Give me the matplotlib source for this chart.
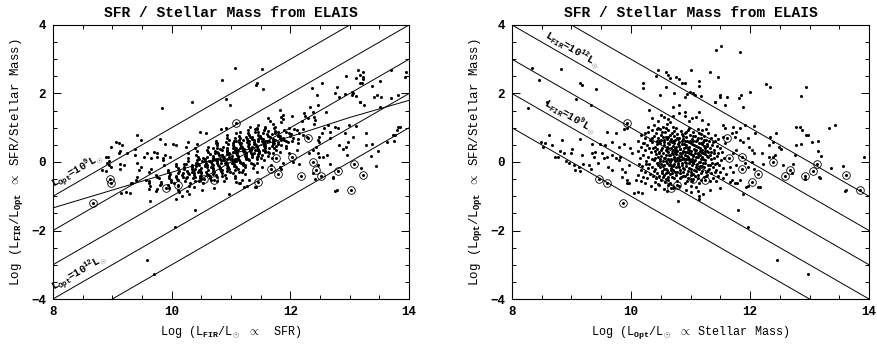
import numpy as np
import matplotlib
matplotlib.use("Agg")
import matplotlib.pyplot as plt
from matplotlib.ticker import MultipleLocator

# galaxy sample: (log L_opt, log L_FIR/L_opt)
# left panel uses log L_FIR = log L_opt + ratio
top_pts = [(8.34, 2.73), (8.46, 2.39), (8.82, 2.71), (9.14, 2.30), (9.17, 2.25), (9.42, 2.12),
           (9.08, 1.84), (8.58, 1.76), (10.21, 2.32), (10.21, 2.15), (10.42, 2.52), (10.46, 2.68),
           (10.49, 1.96), (10.59, 2.64), (10.63, 2.54), (10.66, 2.44), (10.59, 2.19), (10.75, 2.47),
           (10.81, 2.42), (10.86, 2.32), (10.91, 2.30), (10.73, 2.02), (10.91, 1.91), (10.94, 1.98),
           (10.99, 2.05), (11.05, 2.00), (11.08, 1.96), (11.17, 1.94), (11.00, 2.69), (11.14, 2.37),
           (11.15, 2.23), (11.33, 2.62), (11.47, 2.47), (11.43, 3.28), (11.52, 3.38), (11.83, 3.22),
           (11.42, 1.76), (11.50, 1.96), (11.50, 1.91), (11.61, 1.91), (11.81, 1.88), (11.85, 1.96),
           (12.00, 2.03), (12.27, 2.28), (12.33, 2.18), (12.86, 1.94), (12.94, 2.18)]

low_mass_pts = [(8.27, 1.57), (9.33, 1.66), (9.88, 0.95), (9.93, 0.98), (9.74, 0.84), (9.59, 0.89),
                (9.68, 0.59), (8.62, 0.79), (8.48, 0.59), (8.56, 0.56), (8.52, 0.45), (8.67, 0.50),
                (8.84, 0.64), (9.15, 0.66), (9.34, 0.54), (9.48, 0.54), (9.57, 0.50), (9.01, 0.37),
                (9.00, 0.25), (8.81, 0.32), (8.87, 0.25), (8.73, 0.16), (8.78, 0.14), (8.90, 0.04),
                (8.95, -0.04), (9.04, -0.09), (9.12, -0.14), (9.20, -0.07), (9.29, -0.09), (9.34, 0.25),
                (9.40, 0.30), (9.37, 0.16), (9.18, 0.20), (9.51, 0.25), (9.54, 0.11), (9.60, 0.16),
                (9.45, -0.04), (9.32, -0.19), (9.68, 0.20), (9.74, 0.11), (9.79, 0.06), (9.82, 0.16),
                (9.62, -0.14), (9.68, -0.23), (9.85, -0.19), (9.90, -0.28), (9.96, -0.09), (9.85, -0.43),
                (9.93, -0.53), (9.96, -0.62), (9.79, 0.45), (9.88, 0.54), (9.99, 0.40), (10.02, 0.25),
                (9.06, -0.23), (9.15, -0.25)]

below_pts = [(9.93, -0.61), (10.08, -0.52), (10.05, -0.90), (10.12, -0.89), (10.19, -0.90),
             (10.47, -0.67), (10.60, -0.86), (10.55, -0.80), (11.00, -0.88), (11.12, -0.86),
             (11.15, -0.98), (11.43, -0.55), (11.70, -0.52), (11.78, -0.62), (11.97, -0.70),
             (12.13, -0.72), (13.16, -0.44), (13.60, -0.84), (10.79, -1.15), (11.15, -1.08),
             (11.79, -1.39), (11.97, -1.91), (12.45, -2.87), (12.97, -3.27)]

high_mass_pts = [(12.06, 1.05), (12.08, 0.84), (12.44, 0.84), (12.34, 0.72), (12.38, 0.59),
                 (12.32, 0.50), (12.49, 0.45), (12.52, 0.37), (12.42, 0.20), (12.39, 0.16),
                 (12.20, 0.27), (12.07, 0.25), (12.32, 0.16), (12.22, -0.07), (12.06, -0.21),
                 (12.56, -0.09), (12.72, -0.06), (12.70, -0.31), (12.16, -0.74), (12.92, -0.50),
                 (13.18, -0.46), (13.36, -0.17), (13.56, -0.12), (13.61, -0.82), (13.92, 0.14),
                 (12.76, 0.20), (12.78, 1.03), (12.84, 1.01), (12.87, 0.93), (12.94, 0.79),
                 (12.98, 0.79), (12.78, 0.50), (12.85, 0.53), (13.04, 0.59), (13.14, 0.61),
                 (13.15, 0.32), (13.19, 0.17), (13.32, 1.00), (13.42, 1.08),
                 (11.41, 1.76), (11.58, 1.66), (11.89, 1.62), (11.55, 1.08), (11.58, 0.98),
                 (11.72, 1.03), (11.77, 0.89), (11.83, 0.98), (11.91, 1.08), (11.69, 0.84),
                 (11.75, 0.74), (11.83, 0.64), (11.89, 0.59), (11.97, 0.69), (11.99, 0.45),
                 (12.03, 0.35), (11.77, 0.35), (11.72, 0.25), (11.91, -0.04), (11.97, -0.14),
                 (12.03, 0.01), (11.66, -0.14), (11.72, -0.28), (11.77, -0.09), (11.55, -0.48),
                 (11.66, -0.57), (11.75, -0.62), (11.83, -0.53), (11.49, -0.77), (11.33, -0.82),
                 (11.21, -0.92), (11.94, -0.72), (11.89, -0.92)]

upper_core_pts = [(10.71, 1.62), (10.81, 1.66), (10.81, 1.42), (10.91, 1.47), (11.02, 1.27),
                  (10.98, 1.21), (10.24, 0.84), (10.29, 1.03), (10.38, 1.08), (10.46, 0.98),
                  (10.54, 1.03), (10.60, 1.11), (10.66, 1.18), (10.71, 1.03), (10.55, 1.30),
                  (10.62, 1.25), (10.50, 1.38), (10.70, 1.33), (10.45, 1.20), (10.35, 1.28),
                  (11.10, 1.30), (11.20, 1.22), (11.30, 1.10), (11.15, 1.45), (10.30, 1.52),
                  (10.90, 1.35)]

core_a = [(10.12, 0.62), (10.11, 0.31), (10.13, -0.05), (10.12, -0.38),
          (10.16, 0.78), (10.17, 0.45), (10.15, 0.12), (10.16, -0.22), (10.17, -0.55),
          (10.20, 0.55), (10.21, 0.20), (10.19, -0.12), (10.20, -0.44),
          (10.24, 0.70), (10.23, 0.36), (10.25, 0.02), (10.24, -0.30), (10.23, -0.62),
          (10.28, 0.88), (10.27, 0.49), (10.29, 0.15), (10.28, -0.18), (10.27, -0.48),
          (10.32, 0.64), (10.33, 0.28), (10.31, -0.06), (10.32, -0.35), (10.33, -0.70),
          (10.36, 0.92), (10.35, 0.57), (10.37, 0.40), (10.36, 0.10), (10.35, -0.15), (10.37, -0.42),
          (10.39, 0.75), (10.40, 0.33), (10.38, 0.05), (10.39, -0.27), (10.40, -0.58),
          (10.42, 0.86), (10.43, 0.62), (10.41, 0.45), (10.42, 0.22), (10.43, -0.02), (10.41, -0.20),
          (10.42, -0.46), (10.45, 0.70), (10.44, 0.38), (10.46, 0.14), (10.45, -0.10), (10.44, -0.33),
          (10.46, -0.64), (10.48, 0.95), (10.49, 0.55), (10.47, 0.30), (10.48, 0.08), (10.49, -0.15),
          (10.47, -0.40), (10.51, 0.80), (10.50, 0.63), (10.52, 0.42), (10.51, 0.18), (10.50, -0.05),
          (10.52, -0.26), (10.51, -0.52), (10.54, 0.72), (10.55, 0.49), (10.53, 0.25), (10.54, 0.02),
          (10.55, -0.20), (10.53, -0.45), (10.57, 0.88), (10.56, 0.58), (10.58, 0.36), (10.57, 0.12),
          (10.56, -0.10), (10.58, -0.31), (10.57, -0.58), (10.60, 0.67), (10.61, 0.44), (10.59, 0.21),
          (10.60, -0.02), (10.61, -0.24), (10.59, -0.50)]

core_b = [(10.63, 0.93), (10.62, 0.74), (10.64, 0.52), (10.63, 0.30), (10.62, 0.10), (10.64, -0.08),
          (10.63, -0.28), (10.62, -0.43), (10.66, 0.62), (10.67, 0.41), (10.65, 0.19), (10.66, 0.00),
          (10.67, -0.18), (10.65, -0.36), (10.66, -0.62), (10.69, 0.85), (10.68, 0.68), (10.70, 0.47),
          (10.69, 0.27), (10.68, 0.06), (10.70, -0.13), (10.69, -0.32), (10.72, 0.77), (10.73, 0.56),
          (10.71, 0.35), (10.72, 0.15), (10.73, -0.05), (10.71, -0.24), (10.72, -0.47), (10.75, 0.98),
          (10.74, 0.64), (10.76, 0.43), (10.75, 0.22), (10.74, 0.03), (10.76, -0.16), (10.75, -0.38),
          (10.78, 0.82), (10.79, 0.52), (10.77, 0.31), (10.78, 0.11), (10.79, -0.09), (10.77, -0.28),
          (10.78, -0.55), (10.81, 0.70), (10.80, 0.48), (10.82, 0.26), (10.81, 0.05), (10.80, -0.14),
          (10.82, -0.33), (10.84, 0.90), (10.85, 0.60), (10.83, 0.38), (10.84, 0.18), (10.85, -0.02),
          (10.83, -0.22), (10.84, -0.45), (10.87, 0.75), (10.86, 0.53), (10.88, 0.32), (10.87, 0.12),
          (10.86, -0.08), (10.88, -0.30), (10.90, 0.84), (10.91, 0.62), (10.89, 0.41), (10.90, 0.20),
          (10.91, 0.00), (10.89, -0.19), (10.90, -0.40), (10.91, -0.60)]

core_c = [(10.93, 0.72), (10.92, 0.50), (10.94, 0.29), (10.93, 0.08), (10.92, -0.12), (10.94, -0.34),
          (10.96, 0.93), (10.97, 0.58), (10.95, 0.37), (10.96, 0.16), (10.97, -0.04), (10.95, -0.25),
          (10.96, -0.48), (10.99, 0.80), (10.98, 0.45), (11.00, 0.24), (10.99, 0.04), (10.98, -0.17),
          (11.00, -0.38), (11.02, 0.68), (11.03, 0.52), (11.01, 0.31), (11.02, 0.10), (11.03, -0.10),
          (11.01, -0.30), (11.02, -0.56), (11.05, 0.88), (11.04, 0.60), (11.06, 0.39), (11.05, 0.18),
          (11.04, -0.03), (11.06, -0.22), (11.08, 0.75), (11.09, 0.46), (11.07, 0.26), (11.08, 0.06),
          (11.09, -0.14), (11.07, -0.42), (11.11, 0.63), (11.10, 0.34), (11.12, 0.14), (11.11, -0.06),
          (11.10, -0.27), (11.14, 0.84), (11.15, 0.55), (11.13, 0.22), (11.14, 0.01), (11.15, -0.19),
          (11.13, -0.38), (11.14, -0.62), (11.17, 0.70), (11.16, 0.42), (11.18, 0.29), (11.17, 0.09),
          (11.16, -0.11), (11.18, -0.33), (11.20, 0.92), (11.21, 0.58), (11.19, 0.35), (11.20, 0.16),
          (11.21, -0.04), (11.19, -0.25)]

core_d = [(11.23, 0.76), (11.22, 0.47), (11.24, 0.22), (11.23, -0.15), (11.22, -0.45),
          (11.26, 0.64), (11.27, 0.31), (11.25, 0.05), (11.26, -0.28),
          (11.29, 0.85), (11.28, 0.52), (11.30, 0.14), (11.29, -0.08), (11.28, -0.38),
          (11.32, 0.40), (11.33, 0.20), (11.31, -0.20), (11.32, -0.55),
          (11.35, 0.70), (11.34, 0.28), (11.36, -0.02), (11.35, -0.32),
          (11.38, 0.58), (11.39, 0.11), (11.37, -0.14), (11.38, -0.46),
          (11.41, 0.80), (11.40, 0.35), (11.42, -0.05), (11.41, -0.28),
          (11.44, 0.48), (11.45, 0.18), (11.43, -0.22),
          (11.47, 0.66), (11.46, 0.25), (11.48, -0.10), (11.47, -0.40),
          (11.50, 0.42), (11.51, 0.05), (11.49, -0.30),
          (11.54, 0.74), (11.53, 0.30), (11.55, -0.18),
          (11.58, 0.55), (11.57, 0.12), (11.59, -0.36)]

core_fill = [(10.435, 0.52), (10.465, 0.27), (10.495, 0.02), (10.525, -0.33), (10.555, 0.65),
             (10.585, 0.04), (10.615, 0.56), (10.645, 0.20), (10.675, -0.08), (10.705, 0.60),
             (10.735, 0.41), (10.765, 0.06), (10.795, 0.66), (10.825, 0.39), (10.855, 0.08),
             (10.885, 0.52), (10.915, 0.30), (10.945, 0.62), (10.975, 0.27), (11.005, 0.55),
             (11.035, 0.21), (11.065, 0.50), (11.095, 0.15), (11.125, 0.45), (11.155, 0.32),
             (11.185, 0.52), (11.215, 0.26), (11.245, 0.40), (11.275, 0.18), (10.73, 0.90),
             (10.86, 0.83), (10.98, 1.00), (11.12, 0.95), (10.58, 1.00), (10.44, 0.97),
             (11.26, 0.96), (10.62, -0.68), (10.80, -0.70), (11.00, -0.70), (10.93, -0.82),
             (11.10, -0.72), (10.40, -0.78), (10.70, -0.75)]

core_fill2 = [(10.52, 0.88), (10.58, 0.74), (10.47, 0.61), (10.63, 0.41), (10.69, 0.58),
              (10.74, 0.29), (10.81, 0.57), (10.77, 0.71), (10.88, 0.66), (10.93, 0.43),
              (10.99, 0.62), (11.04, 0.76), (11.09, 0.62), (11.13, 0.70), (11.17, 0.55),
              (11.22, 0.63), (11.27, 0.48), (11.31, 0.62), (11.36, 0.49), (11.42, 0.61),
              (10.50, 0.35), (10.56, 0.13), (10.61, 0.33), (10.67, 0.10), (10.71, 0.23),
              (10.76, 0.35), (10.80, 0.16), (10.85, 0.25), (10.89, 0.10), (10.94, 0.18),
              (10.98, 0.35), (11.03, 0.04), (11.07, 0.34), (11.12, 0.27), (11.16, 0.20),
              (11.21, 0.08), (11.25, 0.33), (11.30, 0.28), (11.34, 0.09), (11.39, 0.25),
              (10.46, -0.04), (10.53, -0.12), (10.58, -0.19), (10.64, 0.05), (10.68, -0.22),
              (10.73, 0.09), (10.79, -0.03), (10.83, 0.05), (10.87, -0.18), (10.92, -0.02),
              (10.97, 0.10), (11.01, -0.20), (11.06, 0.02), (11.11, -0.17), (11.16, 0.00),
              (11.19, -0.13), (11.24, -0.03), (11.29, -0.22), (11.33, -0.09), (11.45, -0.02),
              (10.55, -0.38), (10.62, -0.52), (10.69, -0.43), (10.74, -0.30), (10.82, -0.46),
              (10.88, -0.41), (10.94, -0.55), (11.00, -0.50), (11.05, -0.36), (11.12, -0.48),
              (11.18, -0.52), (11.26, -0.42), (10.66, 0.80), (10.92, 0.87), (11.18, 0.83),
              (10.40, 0.12), (10.36, 0.70), (10.30, 0.40), (10.26, -0.06), (10.22, 0.55)]

# flagged (circled) galaxies
circled_pts = [(9.93, 1.15), (9.87, -1.20), (9.47, -0.51), (9.60, -0.62), (10.68, -0.77),
               (10.77, -0.66), (11.05, -0.50), (11.24, -0.52), (11.61, 0.69), (11.65, 0.11),
               (11.86, 0.16), (11.87, -0.20), (12.03, -0.57), (12.39, -0.01), (12.67, -0.23),
               (12.59, -0.41), (12.14, -0.35), (12.92, -0.41), (13.06, -0.25), (13.13, -0.06),
               (13.61, -0.38), (13.85, -0.82)]

# constant luminosity lines (log L = intercept)
line_intercepts = [9, 10, 11, 12, 13]

# fitted trend in the left panel
fit_x = [8, 9, 10, 11, 12, 13, 14]
fit_y = [-1.34, -0.82, -0.30, 0.22, 0.74, 1.30, 1.80]

all_pts = np.array(top_pts + low_mass_pts + below_pts + high_mass_pts + upper_core_pts
                   + core_a + core_b + core_c + core_d + core_fill + core_fill2 + circled_pts)
lopt = all_pts[:, 0]
ratio = all_pts[:, 1]
circ = np.array(circled_pts)

plt.rcParams["font.family"] = "Liberation Mono"
plt.rcParams["font.weight"] = "bold"
plt.rcParams["mathtext.fontset"] = "custom"
plt.rcParams["mathtext.rm"] = "Liberation Mono:bold"
plt.rcParams["mathtext.it"] = "Liberation Mono:bold"
plt.rcParams["mathtext.bf"] = "Liberation Mono:bold"
plt.rcParams["axes.linewidth"] = 0.8

fig = plt.figure(figsize=(8.77, 3.5), dpi=100)
ax1 = fig.add_axes([0.0604, 0.1457, 0.406, 0.7829])
ax2 = fig.add_axes([0.5838, 0.1457, 0.4071, 0.7829])

xx = np.array([8.0, 14.0])


def style(ax):
    ax.set_xlim(8, 14)
    ax.set_ylim(-4, 4)
    ax.xaxis.set_major_locator(MultipleLocator(2))
    ax.xaxis.set_minor_locator(MultipleLocator(0.5))
    ax.yaxis.set_major_locator(MultipleLocator(2))
    ax.yaxis.set_minor_locator(MultipleLocator(0.5))
    ax.tick_params(which="both", direction="in", top=True, right=True, width=0.7,
                   labelsize=9, pad=5)
    ax.tick_params(which="major", length=6)
    ax.tick_params(which="minor", length=3)
    ax.set_title("SFR / Stellar Mass from ELAIS", fontsize=10.5, fontweight="bold", pad=6)


# left panel: L_FIR vs L_FIR/L_opt
lfir = lopt + ratio
for c in line_intercepts:
    ax1.plot(xx, xx - c, color="black", lw=0.7)
ax1.plot(fit_x, fit_y, color="black", lw=0.7)
ax1.plot(lfir, ratio, "o", color="black", ms=2.2, mew=0)
ax1.plot(circ[:, 0] + circ[:, 1], circ[:, 1], "o", mfc="none", mec="black", ms=5.5, mew=0.6)
ax1.text(8.06, -0.90, r"L$_{\rm Opt}$=10$^{9}$L$_\odot$", rotation=45,
         transform_rotates_text=True, rotation_mode="anchor", ha="left", va="bottom", fontsize=7.5)
ax1.text(8.06, -3.90, r"L$_{\rm Opt}$=10$^{12}$L$_\odot$", rotation=45,
         transform_rotates_text=True, rotation_mode="anchor", ha="left", va="bottom", fontsize=7.5)
style(ax1)
ax1.set_xlabel(r"Log (L$_{\rm FIR}$/L$_\odot$ $\propto$  SFR)", fontsize=8.5, labelpad=4)
ax1.set_ylabel(r"Log (L$_{\rm FIR}$/L$_{\rm Opt}$ $\propto$ SFR/Stellar Mass)", fontsize=9,
               labelpad=4)

# right panel: L_opt vs L_FIR/L_opt
for c in line_intercepts:
    ax2.plot(xx, c - xx, color="black", lw=0.7)
ax2.plot(lopt, ratio, "o", color="black", ms=2.2, mew=0)
ax2.plot(circ[:, 0], circ[:, 1], "o", mfc="none", mec="black", ms=5.5, mew=0.6)
ax2.text(8.50, 3.54, r"L$_{\rm FIR}$=10$^{12}$L$_\odot$", rotation=-45,
         transform_rotates_text=True, rotation_mode="anchor", ha="left", va="bottom", fontsize=7.5)
ax2.text(8.48, 1.56, r"L$_{\rm FIR}$=10$^{9}$L$_\odot$", rotation=-45,
         transform_rotates_text=True, rotation_mode="anchor", ha="left", va="bottom", fontsize=7.5)
style(ax2)
ax2.set_xlabel(r"Log (L$_{\rm Opt}$/L$_\odot$ $\propto$ Stellar Mass)", fontsize=8.5, labelpad=4)
ax2.set_ylabel(r"Log (L$_{\rm Opt}$/L$_{\rm Opt}$ $\propto$ SFR/Stellar Mass)", fontsize=9,
               labelpad=4)

fig.savefig("out.png", dpi=100)
